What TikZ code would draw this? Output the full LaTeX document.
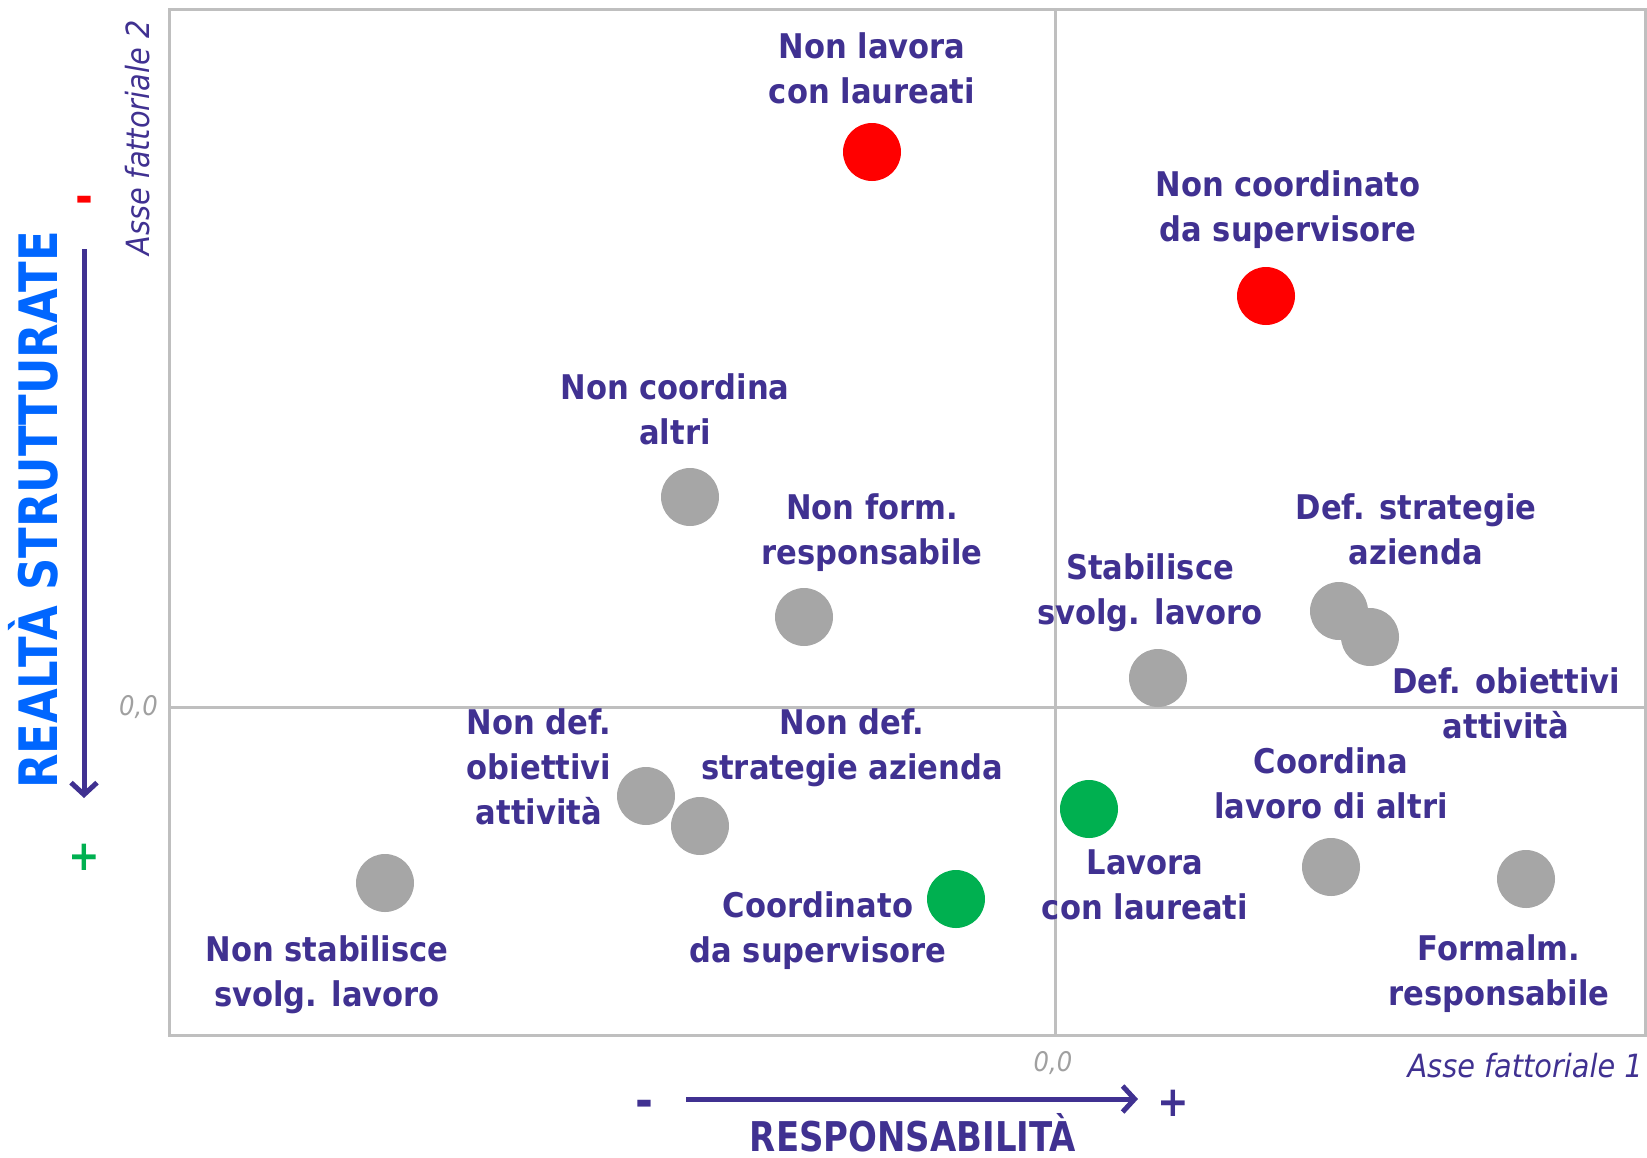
\documentclass[tikz,border=0pt]{standalone}
\usepackage{fontspec}
\setmainfont{DejaVu Sans}[FakeStretch=0.9]
\usetikzlibrary{arrows.meta}
\definecolor{ind}{RGB}{64,49,145}
\definecolor{bblue}{RGB}{0,102,255}
\definecolor{dgray}{RGB}{166,166,166}
\definecolor{fgray}{RGB}{191,191,191}
\definecolor{lgray}{RGB}{160,160,160}
\definecolor{dred}{RGB}{255,0,0}
\definecolor{dgreen}{RGB}{0,176,80}
\begin{document}
\begin{tikzpicture}[x=1pt,y=-1pt,
  lbl/.style={font=\fontsize{34}{45}\selectfont\bfseries, text=ind, align=center, inner sep=0pt},
  dotbase/.style={circle, minimum size=58pt, inner sep=0pt},
  gdot/.style={dotbase, fill=dgray},
  rdot/.style={dotbase, fill=dred},
  vdot/.style={dotbase, fill=dgreen},
  axisline/.style={draw=fgray, line width=3pt},
  axtitle/.style={font=\fontsize{32}{36}\selectfont\itshape, text=ind, inner sep=0pt},
  zero/.style={font=\fontsize{27}{30}\selectfont\itshape, text=lgray, inner sep=0pt},
  bigarrow/.style={draw=ind, line width=5pt, -{Straight Barb[length=12pt,width=26pt]}},
  minussign/.style={font=\fontsize{48}{50}\selectfont\bfseries, inner sep=0pt, anchor=base},
  plussign/.style={font=\fontsize{42}{46}\selectfont\bfseries, inner sep=0pt}
]
\useasboundingbox (0,0) rectangle (1647,1157);
% frame and axes
\draw[axisline] (169,9.5) rectangle (1645,1035);
\coordinate (vtop) at (1055,9.5);
\coordinate (vbot) at (1055,1035);
\coordinate (hl) at (169,707);
\coordinate (hr) at (1645,707);
\draw[axisline] (vtop) -- (vbot);
\draw[axisline] (hl) -- (hr);
% axis labels
\node[zero, anchor=east] (z1) at (158,707) {0,0};
\node[zero] (z2) at (1053,1063) {0,0};
\node[axtitle, anchor=base east] (a1) at (1643,1077) {Asse fattoriale 1};
\node[axtitle, anchor=base, rotate=90] (a2) at (149,138) {Asse fattoriale 2};
% big titles
\node[font=\fontsize{53}{60}\selectfont\bfseries, text=bblue, anchor=base, rotate=90, inner sep=0pt] (t1) at (57,510) {\scalebox{0.94}[1]{REALTÀ STRUTTURATE}};
\node[font=\fontsize{41}{48}\selectfont\bfseries, text=ind, anchor=base, inner sep=0pt] (t2) at (913,1151) {\scalebox{0.92}[1]{RESPONSABILITÀ}};
% arrows
\coordinate (va) at (84,249);
\coordinate (vb) at (84,798);
\draw[bigarrow] (va) -- (vb);
\coordinate (ha) at (686,1099);
\coordinate (hb) at (1138,1099);
\draw[bigarrow] (ha) -- (hb);
\node[minussign, text=dred] (vm) at (84,213) {-};
\node[plussign, text=dgreen] (vp) at (84,857) {+};
\node[minussign, text=ind] (hm) at (644,1117) {-};
\node[plussign, text=ind] (hp) at (1173,1103) {+};
% dots
\node[rdot] (d1) at (872,152) {};
\node[rdot] (d2) at (1266,296) {};
\node[gdot] (d3) at (690,497) {};
\node[gdot] (d4) at (804,617) {};
\node[gdot] (d5) at (1158,678) {};
\node[gdot] (d6) at (1339,611) {};
\node[gdot] (d7) at (1370,637) {};
\node[vdot] (d8) at (1089,809) {};
\node[gdot] (d9) at (1331,867) {};
\node[gdot] (d10) at (1526,879) {};
\node[gdot] (d11) at (646,796) {};
\node[gdot] (d12) at (700,826) {};
\node[vdot] (d13) at (956,899) {};
\node[gdot] (d14) at (385,883) {};
% labels
\node[lbl] (l1) at (872,68.5) {Non lavora\\con laureati};
\node[lbl] (l2) at (1288,209.5) {Non coordinato\\da supervisore};
\node[lbl] (l3) at (675,409) {Non coordina\\altri};
\node[lbl] (l4) at (872,533) {Non form.\\responsabile};
\node[lbl] (l5) at (1150,593) {Stabilisce\\svolg. lavoro};
\node[lbl] (l6) at (1416,529) {Def. strategie\\azienda};
\node[lbl] (l7) at (1506,703) {Def. obiettivi\\attività};
\node[lbl] (l8) at (539,767) {Non def.\\obiettivi\\attività};
\node[lbl] (l9) at (852,748) {Non def.\\strategie azienda};
\node[lbl] (l10) at (1331,783) {Coordina\\lavoro di altri};
\node[lbl] (l11) at (1145,884.5) {Lavora\\con laureati};
\node[lbl] (l12) at (818,931) {Coordinato\\da supervisore};
\node[lbl] (l13) at (327,974.5) {Non stabilisce\\svolg. lavoro};
\node[lbl] (l14) at (1499,974) {Formalm.\\responsabile};
\end{tikzpicture}
\end{document}
